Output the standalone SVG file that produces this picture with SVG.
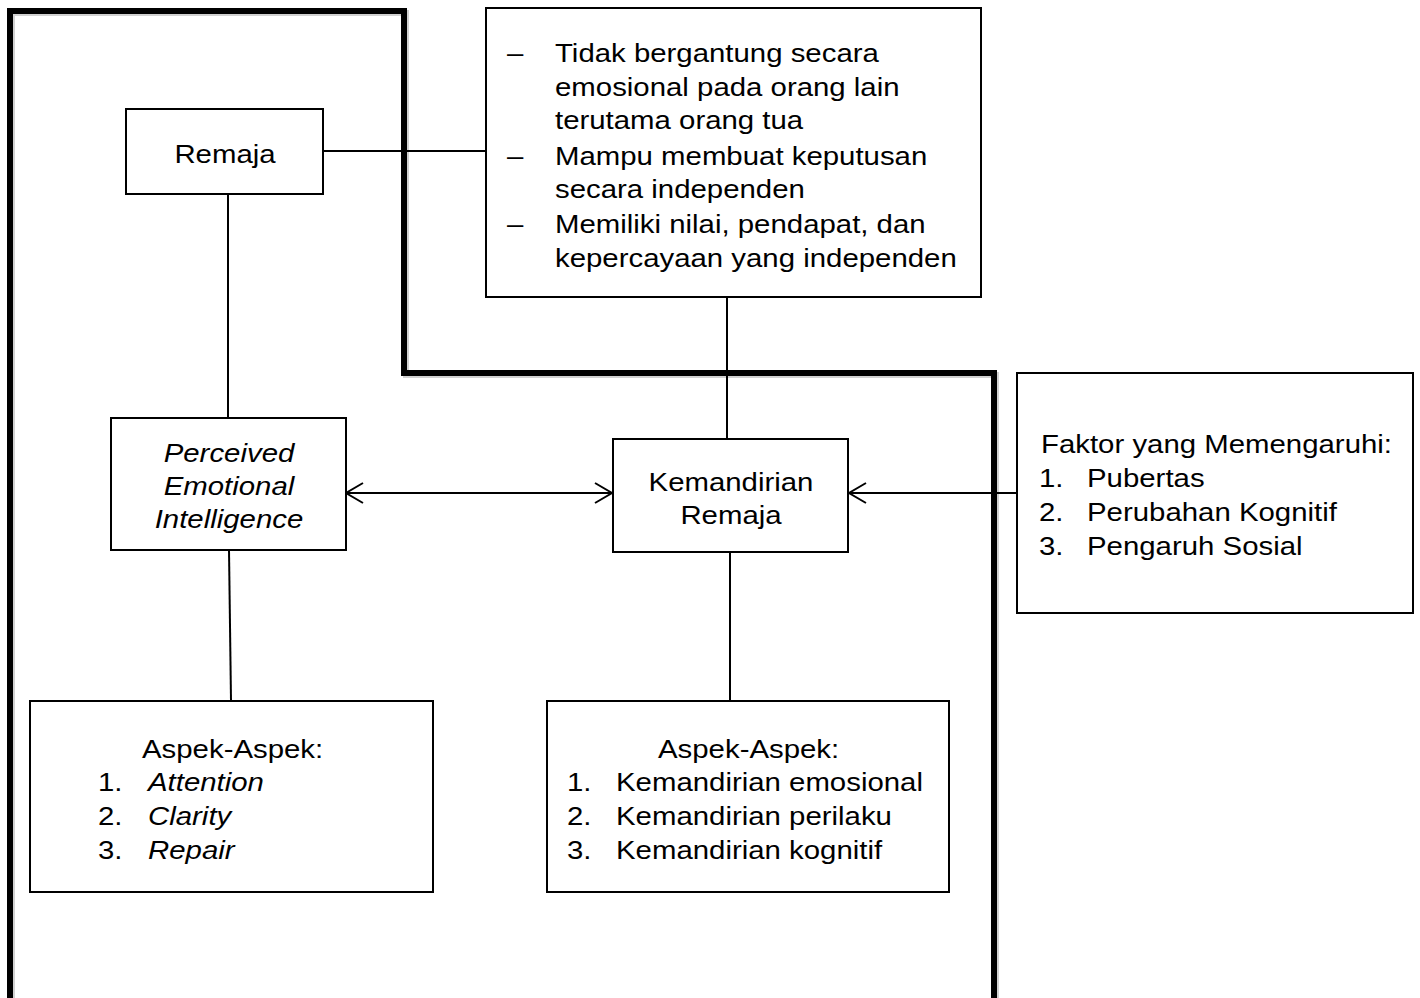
<svg xmlns="http://www.w3.org/2000/svg" width="1420" height="998" viewBox="0 0 1420 998">
<style>
.box{fill:#fff;stroke:#000;stroke-width:2}
.t{font-family:"Liberation Sans",Arial,sans-serif;font-size:26px;fill:#000}
.i{font-style:italic}
.m{text-anchor:middle}
.ln{stroke:#000;stroke-width:2;fill:none}
</style>
<defs>
<marker id="ah" markerWidth="20" markerHeight="24" refX="18" refY="11" orient="auto-start-reverse" markerUnits="userSpaceOnUse">
<path d="M1,1 L18,11 L1,21" fill="none" stroke="#000" stroke-width="2"/>
</marker>
</defs>
<rect width="1420" height="998" fill="#fff"/>
<g id="frame">
<path d="M12,998 V13 H406 V375 H996 V998" fill="none" stroke="#000" stroke-opacity="0.18" stroke-width="6"/>
<path d="M10,998 V11 H404 V373 H994 V998" fill="none" stroke="#000" stroke-width="6" stroke-linejoin="miter"/>
</g>
<g id="connectors">
<line class="ln" x1="324" y1="151" x2="486" y2="151"/>
<line class="ln" x1="228" y1="194" x2="228" y2="418"/>
<line class="ln" x1="727" y1="297" x2="727" y2="439"/>
<line class="ln" x1="346" y1="493" x2="612" y2="493" marker-start="url(#ah)" marker-end="url(#ah)"/>
<line class="ln" x1="1017" y1="493" x2="849" y2="493" marker-end="url(#ah)"/>
<line class="ln" x1="229" y1="550" x2="231" y2="701"/>
<line class="ln" x1="730" y1="552" x2="730" y2="701"/>
</g>
<g id="remaja">
<rect class="box" x="126" y="109" width="197" height="85"/>
<text class="t m" transform="matrix(1.13 0 0 1 225 163)">Remaja</text>
</g>
<g id="ciri">
<rect class="box" x="486" y="8" width="495" height="289"/>
<text class="t" transform="matrix(1.13 0 0 1 507 62)">–</text>
<text class="t" transform="matrix(1.13 0 0 1 555 62)">Tidak bergantung secara</text>
<text class="t" transform="matrix(1.13 0 0 1 555 96)">emosional pada orang lain</text>
<text class="t" transform="matrix(1.13 0 0 1 555 129)">terutama orang tua</text>
<text class="t" transform="matrix(1.13 0 0 1 507 165)">–</text>
<text class="t" transform="matrix(1.13 0 0 1 555 165)">Mampu membuat keputusan</text>
<text class="t" transform="matrix(1.13 0 0 1 555 198)">secara independen</text>
<text class="t" transform="matrix(1.13 0 0 1 507 233)">–</text>
<text class="t" transform="matrix(1.13 0 0 1 555 233)">Memiliki nilai, pendapat, dan</text>
<text class="t" transform="matrix(1.13 0 0 1 555 267)">kepercayaan yang independen</text>
</g>
<g id="pei">
<rect class="box" x="111" y="418" width="235" height="132"/>
<text class="t i m" transform="matrix(1.13 0 0 1 229 462)">Perceived</text>
<text class="t i m" transform="matrix(1.13 0 0 1 229 495)">Emotional</text>
<text class="t i m" transform="matrix(1.13 0 0 1 229 528)">Intelligence</text>
</g>
<g id="kemandirian">
<rect class="box" x="613" y="439" width="235" height="113"/>
<text class="t m" transform="matrix(1.13 0 0 1 731 491)">Kemandirian</text>
<text class="t m" transform="matrix(1.13 0 0 1 731 524)">Remaja</text>
</g>
<g id="faktor">
<rect class="box" x="1017" y="373" width="396" height="240"/>
<text class="t" transform="matrix(1.13 0 0 1 1041 453)">Faktor yang Memengaruhi:</text>
<text class="t" transform="matrix(1.13 0 0 1 1039 487)">1.</text>
<text class="t" transform="matrix(1.13 0 0 1 1087 487)">Pubertas</text>
<text class="t" transform="matrix(1.13 0 0 1 1039 521)">2.</text>
<text class="t" transform="matrix(1.13 0 0 1 1087 521)">Perubahan Kognitif</text>
<text class="t" transform="matrix(1.13 0 0 1 1039 555)">3.</text>
<text class="t" transform="matrix(1.13 0 0 1 1087 555)">Pengaruh Sosial</text>
</g>
<g id="aspek-pei">
<rect class="box" x="30" y="701" width="403" height="191"/>
<text class="t" transform="matrix(1.13 0 0 1 142 758)">Aspek-Aspek:</text>
<text class="t" transform="matrix(1.13 0 0 1 98 791)">1.</text>
<text class="t i" transform="matrix(1.13 0 0 1 148 791)">Attention</text>
<text class="t" transform="matrix(1.13 0 0 1 98 825)">2.</text>
<text class="t i" transform="matrix(1.13 0 0 1 148 825)">Clarity</text>
<text class="t" transform="matrix(1.13 0 0 1 98 859)">3.</text>
<text class="t i" transform="matrix(1.13 0 0 1 148 859)">Repair</text>
</g>
<g id="aspek-kemandirian">
<rect class="box" x="547" y="701" width="402" height="191"/>
<text class="t" transform="matrix(1.13 0 0 1 658 758)">Aspek-Aspek:</text>
<text class="t" transform="matrix(1.13 0 0 1 567 791)">1.</text>
<text class="t" transform="matrix(1.13 0 0 1 616 791)">Kemandirian emosional</text>
<text class="t" transform="matrix(1.13 0 0 1 567 825)">2.</text>
<text class="t" transform="matrix(1.13 0 0 1 616 825)">Kemandirian perilaku</text>
<text class="t" transform="matrix(1.13 0 0 1 567 859)">3.</text>
<text class="t" transform="matrix(1.13 0 0 1 616 859)">Kemandirian kognitif</text>
</g>
</svg>
